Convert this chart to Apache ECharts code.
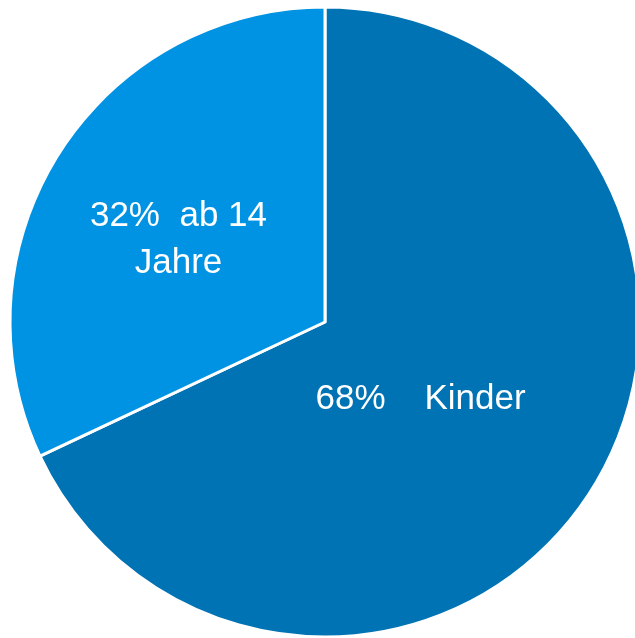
<!DOCTYPE html>
<html>
<head>
<meta charset="utf-8">
<script src="https://cdn.jsdelivr.net/npm/echarts@6/dist/echarts.min.js"></script>
<style>html,body{margin:0;padding:0;background:#fff;}#c{width:635px;height:638px;}</style>
</head>
<body>
<div id="c"></div>
<script>
const categories = ['Kinder', 'ab 14\nJahre'];
const values = [68, 32];
const colors = ['#0073B4', '#0093E3'];
const gaps = ['    ', '  '];
const labelShift = [[-40, -9], [-11, 4]];

const chart = echarts.init(document.getElementById('c'), null, {renderer: 'canvas'});
chart.setOption({
  animation: false,
  series: [{
    type: 'pie',
    center: [325, 322],
    radius: [0, 315],
    startAngle: 90,
    clockwise: true,
    data: categories.map((n, i) => ({name: n, value: values[i], itemStyle: {color: colors[i]}})),
    itemStyle: {borderColor: '#fff', borderWidth: 3},
    label: {
      show: true,
      position: 'inside',
      color: '#fff',
      fontFamily: 'Liberation Sans, Arial, sans-serif',
      fontSize: 35,
      lineHeight: 47,
      formatter: p => p.value + '%' + gaps[p.dataIndex] + p.name
    },
    labelLayout: p => ({dx: labelShift[p.dataIndex][0], dy: labelShift[p.dataIndex][1]}),
    labelLine: {show: false},
    emphasis: {disabled: true}
  }]
});
</script>
</body>
</html>
